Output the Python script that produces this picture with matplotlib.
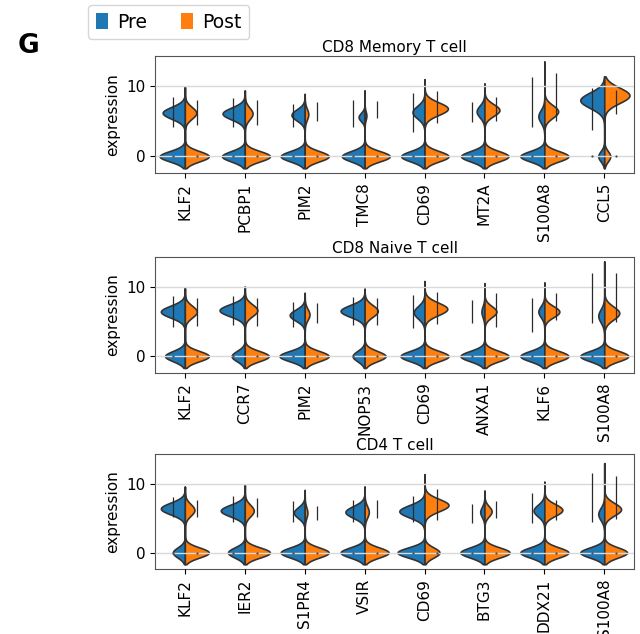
import numpy as np
import matplotlib
matplotlib.use('Agg')
import matplotlib.pyplot as plt
from matplotlib.patches import Patch

# per gene and half: (zero bulge width, positive bulge width, positive mean, strip low, strip high)
memory_genes = ['KLF2', 'PCBP1', 'PIM2', 'TMC8', 'CD69', 'MT2A', 'S100A8', 'CCL5']
memory_pre = [(0.42, 0.37, 6.2, 4.2, 8.4), (0.38, 0.37, 6.1, 4.2, 8.3), (0.40, 0.22, 5.9, 4.2, 7.5),
              (0.38, 0.10, 5.6, 4.2, 8.1), (0.39, 0.20, 6.3, 3.5, 9.0), (0.39, 0.13, 6.4, 4.9, 7.8),
              (0.40, 0.10, 5.7, 4.2, 11.3), (0.10, 0.40, 8.0, 3.7, 9.7)]
memory_post = [(0.40, 0.19, 6.2, 4.5, 8.0), (0.42, 0.13, 6.1, 4.4, 8.0), (0.40, 0.06, 6.0, 5.0, 7.7),
               (0.42, 0.03, 5.8, 5.5, 7.9), (0.40, 0.39, 6.8, 4.7, 9.3), (0.40, 0.25, 6.6, 5.1, 8.5),
               (0.40, 0.23, 6.4, 5.1, 11.9), (0.10, 0.42, 8.7, 6.1, 9.4)]
memory_top = [9.9, 9.4, 8.9, 9.4, 11.0, 10.4, 13.5, 11.4]
memory_sd = [0.85, 0.85, 0.8, 0.6, 0.9, 0.85, 0.9, 1.1]

naive_genes = ['KLF2', 'CCR7', 'PIM2', 'NOP53', 'CD69', 'ANXA1', 'KLF6', 'S100A8']
naive_pre = [(0.33, 0.40, 6.4, 4.2, 8.6), (0.22, 0.42, 6.6, 4.5, 8.6), (0.42, 0.25, 5.9, 4.2, 7.8),
             (0.20, 0.40, 6.5, 4.5, 8.5), (0.40, 0.18, 6.3, 4.0, 8.8), (0.40, 0.05, 6.4, 4.8, 8.1),
             (0.40, 0.10, 6.4, 3.5, 8.4), (0.40, 0.10, 5.8, 4.8, 12.0)]
naive_post = [(0.40, 0.20, 6.4, 4.3, 8.4), (0.40, 0.21, 6.6, 4.3, 8.4), (0.40, 0.08, 6.0, 4.8, 7.6),
              (0.35, 0.22, 6.5, 4.5, 8.4), (0.40, 0.38, 6.8, 4.6, 9.2), (0.40, 0.20, 6.4, 4.2, 9.1),
              (0.40, 0.25, 6.4, 5.2, 9.1), (0.40, 0.25, 6.2, 4.9, 12.0)]
naive_top = [9.8, 10.0, 9.1, 9.7, 10.8, 10.5, 10.6, 13.6]
naive_sd = [0.85, 0.85, 0.8, 0.85, 0.9, 0.8, 0.8, 0.95]

cd4_genes = ['KLF2', 'IER2', 'S1PR4', 'VSIR', 'CD69', 'BTG3', 'DDX21', 'S100A8']
cd4_pre = [(0.20, 0.40, 6.4, 5.1, 8.1), (0.28, 0.40, 6.1, 4.5, 8.2), (0.40, 0.18, 5.8, 4.5, 7.5),
           (0.40, 0.32, 5.9, 4.5, 7.7), (0.45, 0.42, 6.0, 4.5, 8.2), (0.40, 0.07, 5.9, 4.3, 7.1),
           (0.40, 0.18, 6.1, 4.3, 8.7), (0.40, 0.10, 5.6, 4.5, 11.6)]
cd4_post = [(0.40, 0.16, 6.2, 5.1, 7.7), (0.42, 0.15, 6.1, 5.1, 8.0), (0.40, 0.045, 5.8, 4.8, 6.8),
            (0.40, 0.07, 5.9, 5.0, 7.7), (0.25, 0.40, 6.9, 4.8, 9.3), (0.42, 0.12, 6.0, 5.0, 7.5),
            (0.40, 0.30, 6.2, 4.7, 7.6), (0.38, 0.28, 6.3, 4.9, 11.1)]
cd4_top = [9.6, 9.8, 9.1, 9.6, 11.4, 9.0, 10.3, 13.0]
cd4_sd = [0.85, 0.85, 0.8, 0.85, 0.9, 0.75, 0.85, 0.9]

PRE = '#1f77b4'
POST = '#ff7f0e'
FS = 11


def half(ax, x, side, params, top, sd, color):
    w0, w1, mu, lo, hi = params
    y = np.linspace(-1.7, top, 400)
    d = w0 * np.exp(-0.5 * (y / 0.74) ** 2) + w1 * np.exp(-0.5 * ((y - mu) / sd) ** 2)
    ax.fill_betweenx(y, x, x + side * d, facecolor=color, edgecolor='#333333', lw=1.2, zorder=2)
    ax.vlines(x + side * 0.2, lo, hi, color='#2a2a2a', lw=0.9, zorder=3)
    ax.plot([x + side * 0.2], [0], marker='.', ms=1.2, color='#444444', zorder=3)


def panel(ax, title, genes, pre, post, top, sd):
    for i in range(len(genes)):
        half(ax, i, -1, pre[i], top[i], sd[i], PRE)
        half(ax, i, 1, post[i], top[i], sd[i], POST)
    ax.set_xlim(-0.5, len(genes) - 0.5)
    ax.set_ylim(-2.4, 14.3)
    ax.set_xticks(range(len(genes)))
    ax.set_xticklabels(genes, rotation=90, fontsize=FS)
    ax.set_yticks([0, 10])
    ax.tick_params(labelsize=FS)
    ax.set_ylabel('expression', fontsize=FS)
    ax.set_title(title, fontsize=FS, pad=3)
    ax.grid(axis='y', color='#d9d9d9', lw=1.0, zorder=4)
    ax.set_axisbelow(False)
    for s in ax.spines.values():
        s.set_color('#555555')


fig = plt.figure(figsize=(6.4, 6.34), dpi=100)
ax1 = fig.add_axes([0.242, 0.727, 0.749, 0.1845])
ax2 = fig.add_axes([0.242, 0.412, 0.749, 0.183])
ax3 = fig.add_axes([0.242, 0.1025, 0.749, 0.181])

panel(ax1, 'CD8 Memory T cell', memory_genes, memory_pre, memory_post, memory_top, memory_sd)
panel(ax2, 'CD8 Naive T cell', naive_genes, naive_pre, naive_post, naive_top, naive_sd)
panel(ax3, 'CD4 T cell', cd4_genes, cd4_pre, cd4_post, cd4_top, cd4_sd)

fig.text(0.028, 1 - 46 / 634, 'G', fontsize=19, fontweight='bold', va='center', ha='left')
handles = [Patch(facecolor=PRE, label='Pre'), Patch(facecolor=POST, label='Post')]
fig.legend(handles=handles, loc='upper left', bbox_to_anchor=(88 / 640, 1 - 5 / 634), ncol=2,
           fontsize=13.5, handlelength=0.65, handleheight=0.95, handletextpad=0.5, columnspacing=1.8,
           borderpad=0.4, borderaxespad=0)

fig.savefig('out.png', dpi=100)
